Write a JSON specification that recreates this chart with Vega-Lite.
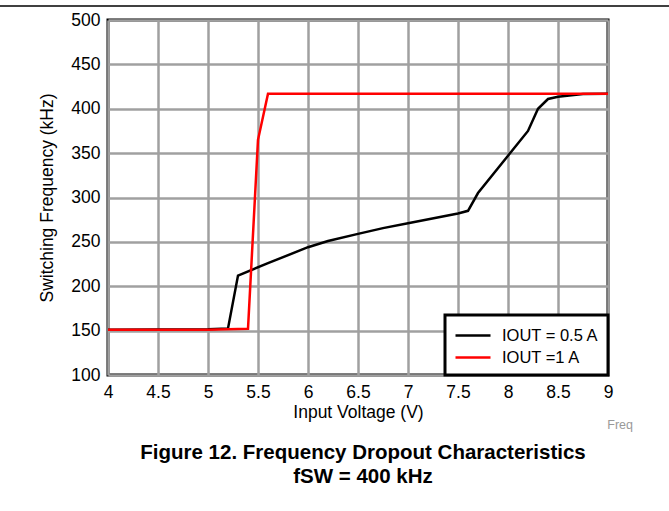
{
  "$schema": "https://vega.github.io/schema/vega-lite/v6.json",
  "width": 500,
  "height": 355,
  "autosize": {"type": "none"},
  "padding": {"left": 108, "top": 20, "right": 61, "bottom": 136},
  "background": "white",
  "title": {
    "text": ["Figure 12. Frequency Dropout Characteristics", "fSW = 400 kHz"],
    "orient": "bottom",
    "anchor": "middle",
    "fontSize": 20.5,
    "fontWeight": "bold",
    "lineHeight": 24.5,
    "offset": 11,
    "dx": 5,
    "color": "black"
  },
  "config": {
    "font": "Liberation Sans",
    "view": {"stroke": "black", "strokeWidth": 3},
    "axis": {
      "grid": true,
      "gridColor": "#a0a0a0",
      "gridWidth": 2.5,
      "gridOpacity": 1,
      "domain": false,
      "ticks": false,
      "labelFlush": false,
      "labelFontSize": 17.5,
      "labelColor": "black",
      "titleFontSize": 17.5,
      "titleFontWeight": "normal",
      "titleColor": "black",
      "labelPadding": 8
    },
    "legend": {
      "orient": "bottom-right",
      "offset": 0,
      "strokeColor": "black",
      "strokeWidth": 3,
      "fillColor": "white",
      "padding": 9,
      "symbolType": "M-1,0H2.5",
      "symbolSize": 400,
      "symbolStrokeWidth": 2.5,
      "labelOffset": 25,
      "labelFontSize": 16.5,
      "labelColor": "black",
      "rowPadding": 2,
      "title": null
    }
  },
  "layer": [
    {
      "data": {
        "values": [
          {"v": 4.0, "f": 151, "s": "IOUT = 0.5 A"},
          {"v": 5.0, "f": 151.5, "s": "IOUT = 0.5 A"},
          {"v": 5.2, "f": 152.5, "s": "IOUT = 0.5 A"},
          {"v": 5.3, "f": 212, "s": "IOUT = 0.5 A"},
          {"v": 5.6, "f": 226, "s": "IOUT = 0.5 A"},
          {"v": 6.0, "f": 244, "s": "IOUT = 0.5 A"},
          {"v": 6.2, "f": 251, "s": "IOUT = 0.5 A"},
          {"v": 6.5, "f": 259, "s": "IOUT = 0.5 A"},
          {"v": 6.75, "f": 265.5, "s": "IOUT = 0.5 A"},
          {"v": 7.0, "f": 271, "s": "IOUT = 0.5 A"},
          {"v": 7.5, "f": 282, "s": "IOUT = 0.5 A"},
          {"v": 7.6, "f": 285, "s": "IOUT = 0.5 A"},
          {"v": 7.7, "f": 305, "s": "IOUT = 0.5 A"},
          {"v": 8.0, "f": 347, "s": "IOUT = 0.5 A"},
          {"v": 8.2, "f": 375, "s": "IOUT = 0.5 A"},
          {"v": 8.3, "f": 400, "s": "IOUT = 0.5 A"},
          {"v": 8.4, "f": 411, "s": "IOUT = 0.5 A"},
          {"v": 8.5, "f": 413.5, "s": "IOUT = 0.5 A"},
          {"v": 8.75, "f": 416.5, "s": "IOUT = 0.5 A"},
          {"v": 9.0, "f": 417, "s": "IOUT = 0.5 A"},
          {"v": 4.0, "f": 151, "s": "IOUT =1 A"},
          {"v": 5.0, "f": 151, "s": "IOUT =1 A"},
          {"v": 5.4, "f": 152, "s": "IOUT =1 A"},
          {"v": 5.5, "f": 365, "s": "IOUT =1 A"},
          {"v": 5.6, "f": 417, "s": "IOUT =1 A"},
          {"v": 9.0, "f": 417, "s": "IOUT =1 A"}
        ]
      },
      "mark": {"type": "line", "strokeWidth": 2.5},
      "encoding": {
        "x": {
          "field": "v",
          "type": "quantitative",
          "scale": {"domain": [4, 9], "nice": false},
          "axis": {"values": [4, 4.5, 5, 5.5, 6, 6.5, 7, 7.5, 8, 8.5, 9], "format": "~g", "title": "Input Voltage (V)", "titlePadding": 3}
        },
        "y": {
          "field": "f",
          "type": "quantitative",
          "scale": {"domain": [100, 500], "nice": false, "zero": false},
          "axis": {"values": [100, 150, 200, 250, 300, 350, 400, 450, 500], "title": "Switching Frequency (kHz)", "titlePadding": 14}
        },
        "color": {
          "field": "s",
          "type": "nominal",
          "scale": {"domain": ["IOUT = 0.5 A", "IOUT =1 A"], "range": ["black", "red"]}
        }
      }
    },
    {
      "data": {"values": [{}]},
      "mark": {"type": "rule", "color": "black", "strokeWidth": 1.5, "clip": false},
      "encoding": {
        "x": {"datum": 2.92, "type": "quantitative"},
        "x2": {"datum": 9.61},
        "y": {"datum": 515.8, "type": "quantitative"}
      }
    },
    {
      "data": {"values": [{}]},
      "mark": {"type": "text", "text": "Freq", "align": "right", "baseline": "middle", "fontSize": 12.5, "color": "#999999", "clip": false},
      "encoding": {
        "x": {"datum": 9.25, "type": "quantitative"},
        "y": {"datum": 43.66, "type": "quantitative"}
      }
    }
  ]
}
